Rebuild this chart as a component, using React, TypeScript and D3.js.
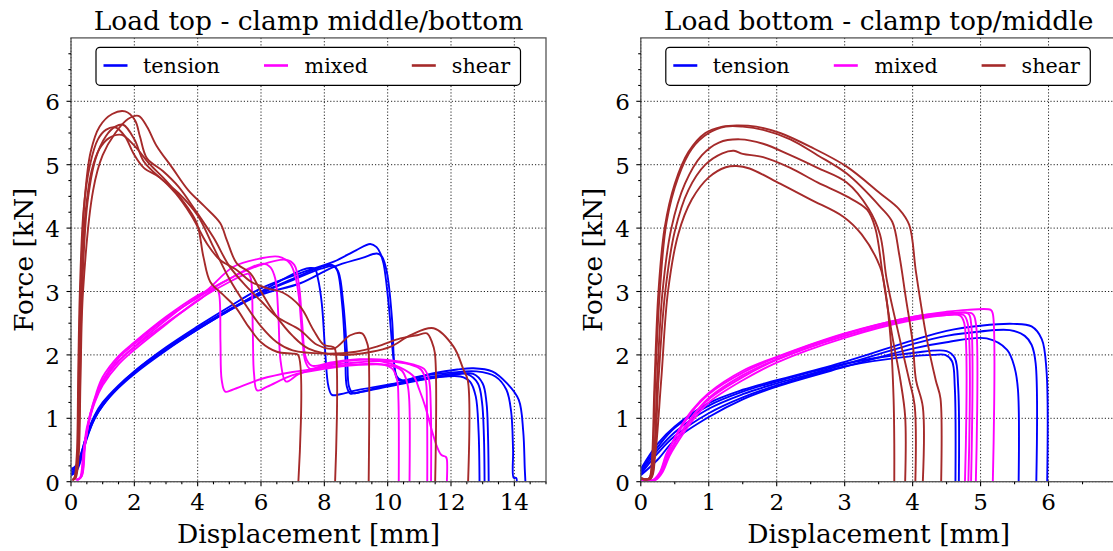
import React from 'react';
import * as d3 from 'd3';

type Pt = [number, number];

const seriesNames = ['tension', 'mixed', 'shear'];
const seriesColors = ['#0000ff', '#ff00ff', '#a52a2a'];

const leftTitle = 'Load top - clamp middle/bottom';
const rightTitle = 'Load bottom - clamp top/middle';
const xLabel = 'Displacement [mm]';
const yLabel = 'Force [kN]';

const leftXTicks = [0, 2, 4, 6, 8, 10, 12, 14];
const rightXTicks = [0, 1, 2, 3, 4, 5, 6];
const yTicks = [0, 1, 2, 3, 4, 5, 6];

// ---------- LEFT: Load top - clamp middle/bottom ----------
const leftTension: Pt[][] = [
  [[0,0.12],[0.15,0.18],[0.3,0.35],[0.5,0.7],[0.75,1.0],[1,1.2],[1.5,1.48],[2,1.7],[3,2.07],[4,2.4],[5,2.7],[6,3.0],[6.8,3.22],[7.3,3.34],[7.55,3.37],[7.7,3.36],[7.8,3.2],[7.92,2.81],[8.03,2.03],[8.13,1.5],[8.24,1.37],[8.5,1.38],[9,1.44],[10,1.53],[11,1.61],[11.8,1.66],[12.3,1.66],[12.6,1.58],[12.78,1.35],[12.87,0.8],[12.9,0.05],[12.9,0]],
  [[0,0.15],[0.15,0.2],[0.3,0.38],[0.5,0.72],[0.75,1.02],[1,1.22],[1.5,1.5],[2,1.72],[3,2.1],[4,2.42],[5,2.72],[6,2.98],[7,3.2],[7.8,3.37],[8.24,3.42],[8.4,3.34],[8.56,2.81],[8.66,2.03],[8.71,1.5],[8.82,1.39],[9,1.4],[10,1.52],[11,1.62],[12,1.7],[12.5,1.7],[12.85,1.55],[12.98,1.25],[13.04,0.7],[13.06,0]],
  [[0,0.18],[0.15,0.22],[0.3,0.4],[0.5,0.75],[0.75,1.05],[1,1.25],[1.5,1.52],[2,1.74],[3,2.1],[4,2.42],[5,2.71],[6,2.97],[7,3.18],[7.9,3.36],[8.3,3.4],[8.45,3.3],[8.6,2.8],[8.72,2.0],[8.78,1.5],[8.9,1.4],[9.2,1.42],[10,1.5],[11,1.6],[12,1.68],[12.7,1.7],[13.0,1.55],[13.12,1.25],[13.17,0.7],[13.19,0]],
  [[0,0.1],[0.15,0.15],[0.3,0.32],[0.5,0.68],[0.75,1.0],[1,1.2],[1.5,1.5],[2,1.74],[3,2.12],[4,2.45],[5,2.76],[6,3.05],[7.24,3.29],[8.3,3.47],[9.0,3.65],[9.45,3.75],[9.65,3.7],[9.77,3.6],[9.87,3.44],[10.03,2.81],[10.19,1.92],[10.29,1.66],[10.45,1.6],[11,1.66],[12,1.72],[12.8,1.74],[13.4,1.66],[13.75,1.45],[13.9,1.1],[13.96,0.5],[13.98,0.06],[14.06,0.06],[14.08,0]],
  [[0,0.2],[0.15,0.25],[0.3,0.42],[0.5,0.74],[0.75,1.03],[1,1.23],[1.5,1.5],[2,1.72],[3,2.08],[4,2.4],[5,2.7],[6,2.95],[7.24,3.13],[8.3,3.39],[9.2,3.53],[9.66,3.6],[9.82,3.55],[9.98,3.29],[10.14,2.55],[10.24,1.71],[10.34,1.6],[10.6,1.6],[11.45,1.71],[12.2,1.77],[12.71,1.79],[13.3,1.74],[13.77,1.55],[14.14,1.29],[14.28,0.8],[14.33,0.2],[14.35,0]],
];

const leftMixed: Pt[][] = [
  [[0.15,0.03],[0.28,0.06],[0.38,0.4],[0.5,0.85],[0.75,1.3],[1,1.58],[1.5,1.9],[2,2.12],[3,2.5],[4,2.85],[4.4,3.0],[4.6,3.05],[4.68,2.95],[4.72,2.2],[4.76,1.6],[4.87,1.42],[5.1,1.45],[6,1.62],[7,1.73],[8,1.8],[9,1.85],[9.8,1.85],[10.15,1.78],[10.3,1.6],[10.34,1.3],[10.35,0]],
  [[0.18,0.03],[0.3,0.06],[0.4,0.45],[0.5,0.8],[0.75,1.25],[1,1.52],[1.5,1.85],[2,2.08],[3,2.48],[4,2.86],[5,3.15],[5.5,3.27],[5.6,3.28],[5.68,3.2],[5.74,2.4],[5.78,1.7],[5.88,1.44],[6.2,1.5],[7,1.68],[8,1.78],[9,1.84],[10,1.84],[10.45,1.75],[10.62,1.55],[10.68,1.3],[10.69,0]],
  [[0.2,0.03],[0.32,0.08],[0.42,0.5],[0.55,0.9],[0.75,1.28],[1,1.56],[1.5,1.9],[2,2.13],[3,2.55],[4,2.92],[5,3.2],[5.6,3.36],[6.08,3.44],[6.3,3.38],[6.45,3.2],[6.55,2.6],[6.62,1.9],[6.79,1.58],[7.2,1.7],[8,1.82],[9,1.88],[10,1.9],[10.7,1.85],[11.05,1.77],[11.2,1.6],[11.24,1.2],[11.25,0]],
  [[0.22,0.03],[0.35,0.1],[0.45,0.6],[0.6,1.05],[0.8,1.4],[1,1.65],[1.5,1.98],[2,2.2],[3,2.6],[4,2.94],[4.29,3.02],[5.13,3.39],[5.97,3.52],[6.55,3.55],[6.92,3.44],[7.1,3.2],[7.2,2.9],[7.3,2.3],[7.4,1.9],[7.55,1.78],[8,1.84],[9,1.92],[10,1.92],[10.8,1.85],[11.15,1.78],[11.3,1.62],[11.36,1.2],[11.37,0]],
  [[0.2,0.03],[0.33,0.08],[0.43,0.55],[0.58,1.0],[0.8,1.35],[1,1.6],[1.5,1.95],[2,2.17],[3,2.58],[4,2.9],[5,3.2],[6,3.42],[6.78,3.5],[7.05,3.42],[7.2,3.1],[7.3,2.5],[7.42,1.95],[7.6,1.83],[8.2,1.88],[9,1.93],[9.8,1.9],[10.4,1.8],[10.82,1.66],[11.0,1.45],[11.19,1.18],[11.4,0.8],[11.56,0.55],[11.7,0.42],[11.84,0.39],[11.87,0.35],[11.87,0]],
];

const leftShear: Pt[][] = [
  [[0.05,0.03],[0.1,0.05],[0.2,0.3],[0.26,1.5],[0.32,3.0],[0.45,4.2],[0.65,4.9],[0.9,5.25],[1.2,5.42],[1.6,5.47],[2.0,5.3],[2.5,5.0],[3.0,4.75],[3.5,4.45],[3.97,4.08],[4.18,3.55],[4.4,3.15],[4.8,2.95],[5.2,2.75],[5.6,2.45],[6.0,2.2],[6.5,2.05],[7.0,2.02],[7.17,2.0],[7.18,0]],
  [[0.05,0.03],[0.1,0.05],[0.18,0.4],[0.23,1.8],[0.28,3.0],[0.4,4.3],[0.6,5.0],[0.85,5.4],[1.1,5.55],[1.39,5.59],[1.7,5.45],[1.97,5.18],[2.3,4.95],[2.8,4.8],[3.3,4.55],[3.8,4.2],[4.3,3.75],[4.7,3.5],[5.2,3.35],[5.7,3.15],[6.2,3.05],[6.7,2.98],[7.24,2.76],[7.66,2.39],[7.98,2.16],[8.24,2.13],[8.33,2.1],[8.34,0]],
  [[0.05,0.03],[0.12,0.05],[0.2,0.3],[0.25,1.6],[0.3,3.0],[0.44,4.5],[0.62,5.2],[0.9,5.6],[1.3,5.8],[1.71,5.84],[2.02,5.7],[2.18,5.44],[2.4,5.1],[2.9,4.9],[3.4,4.65],[3.9,4.3],[4.5,3.85],[5.0,3.4],[5.5,3.1],[6.0,2.85],[6.5,2.6],[7.24,2.39],[7.77,2.16],[8.3,2.1],[8.82,2.31],[9.19,2.34],[9.35,2.19],[9.39,2.1],[9.4,0]],
  [[0.05,0.03],[0.12,0.05],[0.22,0.4],[0.28,1.6],[0.35,3.0],[0.52,4.4],[0.78,5.1],[1.1,5.45],[1.4,5.6],[1.65,5.63],[2.0,5.4],[2.3,5.05],[2.8,4.8],[3.4,4.55],[4.0,4.2],[4.5,3.7],[5.0,3.2],[5.5,2.8],[6.0,2.45],[6.5,2.2],[7.0,2.07],[8,2.02],[9,2.05],[9.66,2.13],[10.4,2.26],[10.93,2.31],[11.24,2.34],[11.4,2.2],[11.49,2.03],[11.5,0]],
  [[0.05,0.03],[0.14,0.05],[0.24,0.4],[0.3,1.6],[0.38,3.0],[0.7,4.6],[1.0,5.15],[1.4,5.5],[1.8,5.72],[2.13,5.77],[2.4,5.6],[2.7,5.3],[3.2,4.95],[3.7,4.6],[4.2,4.35],[4.71,4.08],[4.92,3.81],[5.24,3.44],[5.66,3.29],[6.0,3.0],[6.5,2.6],[7.0,2.3],[7.5,2.1],[8.5,2.0],[9.5,2.05],[10.1,2.13],[10.72,2.31],[11.45,2.42],[12.08,2.13],[12.4,1.76],[12.53,1.6],[12.54,0]],
];

// ---------- RIGHT: Load bottom - clamp top/middle ----------
const rightTension: Pt[][] = [
  [[0,0.12],[0.25,0.45],[0.5,0.72],[1,1.08],[1.5,1.33],[2,1.52],[3,1.82],[4,1.98],[4.3,2.0],[4.48,2.0],[4.58,1.9],[4.62,1.5],[4.63,0]],
  [[0,0.18],[0.25,0.55],[0.5,0.85],[1,1.2],[1.5,1.42],[2,1.58],[3,1.86],[4,2.03],[4.5,2.06],[4.62,1.95],[4.67,1.5],[4.68,0]],
  [[0,0.1],[0.25,0.35],[0.5,0.66],[1,1.02],[1.5,1.3],[2,1.5],[3,1.81],[4,2.1],[4.5,2.2],[5.09,2.26],[5.39,2.08],[5.5,1.8],[5.55,1.45],[5.56,0]],
  [[0,0.15],[0.25,0.5],[0.5,0.78],[1,1.15],[1.5,1.38],[2,1.55],[3,1.85],[4,2.17],[4.5,2.3],[5,2.37],[5.43,2.39],[5.65,2.3],[5.75,2.16],[5.81,1.87],[5.82,0]],
  [[0,0.2],[0.25,0.6],[0.5,0.87],[1,1.24],[1.5,1.45],[2,1.6],[3,1.89],[4,2.23],[4.5,2.38],[5,2.46],[5.48,2.49],[5.75,2.45],[5.9,2.25],[5.97,1.75],[5.98,0]],
];

const rightMixed: Pt[][] = [
  [[0,0.02],[0.2,0.03],[0.3,0.15],[0.4,0.4],[0.5,0.6],[0.75,1.0],[1,1.3],[1.5,1.65],[2,1.92],[3,2.3],[4,2.57],[4.5,2.63],[4.7,2.62],[4.76,2.5],[4.77,0]],
  [[0,0.02],[0.22,0.03],[0.32,0.15],[0.42,0.4],[0.5,0.55],[0.75,0.95],[1,1.25],[1.5,1.6],[2,1.88],[3,2.27],[4,2.55],[4.5,2.63],[4.75,2.63],[4.81,2.5],[4.82,0]],
  [[0,0.02],[0.18,0.03],[0.28,0.15],[0.38,0.45],[0.5,0.68],[0.75,1.1],[1,1.38],[1.5,1.72],[2,1.96],[3,2.33],[4,2.6],[4.6,2.66],[4.82,2.65],[4.86,2.5],[4.86,0]],
  [[0,0.02],[0.2,0.03],[0.3,0.15],[0.4,0.42],[0.5,0.62],[0.75,1.02],[1,1.32],[1.5,1.68],[2,1.93],[3,2.3],[4,2.58],[4.6,2.66],[4.88,2.65],[4.93,2.5],[4.93,0]],
  [[0,0.02],[0.2,0.03],[0.3,0.15],[0.4,0.45],[0.5,0.7],[0.75,1.12],[1,1.4],[1.5,1.75],[2,1.97],[3,2.34],[4,2.6],[4.5,2.68],[4.8,2.71],[5.15,2.71],[5.18,2.65],[5.18,0]],
];

const rightShear: Pt[][] = [
  [[0,0.05],[0.12,0.05],[0.16,0.3],[0.2,1.5],[0.26,3.0],[0.35,4.0],[0.5,4.7],[0.7,5.2],[0.95,5.5],[1.2,5.6],[1.41,5.62],[1.7,5.6],[2.05,5.5],[2.5,5.28],[3.03,4.97],[3.52,4.55],[3.8,4.3],[3.95,4.05],[4.05,3.3],[4.2,2.3],[4.34,1.6],[4.41,1.31],[4.42,0]],
  [[0,0.05],[0.13,0.05],[0.17,0.3],[0.21,1.5],[0.28,3.0],[0.38,4.1],[0.55,4.8],[0.75,5.25],[1.0,5.5],[1.25,5.6],[1.5,5.6],[1.8,5.55],[2.2,5.4],[2.6,5.15],[3.03,4.86],[3.52,4.34],[3.7,4.1],[3.8,3.6],[3.9,2.9],[4.0,2.2],[4.05,1.6],[4.15,1.18],[4.15,0]],
  [[0,0.05],[0.12,0.05],[0.19,0.4],[0.24,1.6],[0.32,3.0],[0.45,4.0],[0.65,4.7],[0.9,5.15],[1.15,5.35],[1.46,5.4],[1.8,5.33],[2.2,5.15],[2.6,4.95],[3.03,4.72],[3.35,4.31],[3.52,3.9],[3.62,3.18],[3.8,2.3],[3.95,1.6],[4.03,1.2],[4.04,0]],
  [[0,0.05],[0.14,0.05],[0.2,0.4],[0.26,1.6],[0.36,3.0],[0.5,3.95],[0.7,4.6],[0.95,5.0],[1.2,5.18],[1.37,5.22],[1.5,5.17],[1.8,5.12],[2.2,4.95],[2.6,4.72],[3.03,4.5],[3.33,4.29],[3.45,4.0],[3.57,3.18],[3.7,2.3],[3.82,1.6],[3.89,1.03],[3.89,0]],
  [[0,0.05],[0.15,0.05],[0.21,0.4],[0.3,1.6],[0.4,3.0],[0.55,3.9],[0.75,4.45],[1.0,4.8],[1.25,4.96],[1.41,4.98],[1.6,4.94],[2.05,4.7],[2.5,4.45],[2.98,4.18],[3.25,3.9],[3.52,3.39],[3.6,3.0],[3.68,2.2],[3.72,1.3],[3.73,0.6],[3.73,0]],
];

const FONT = "'DejaVu Serif', serif";
const Y_TOP = 37.9;
const Y_BOT = 481.7;

type PanelProps = {
  id: string;
  left: number;
  right: number;
  xMax: number;
  xTicks: number[];
  xMinorStep: number;
  title: string;
  tension: Pt[][];
  mixed: Pt[][];
  shear: Pt[][];
};

function Panel(p: PanelProps) {
  const x = d3.scaleLinear().domain([0, p.xMax]).range([p.left, p.right]);
  const y = d3.scaleLinear().domain([0, 7]).range([Y_BOT, Y_TOP]);
  const line = d3
    .line<Pt>()
    .x((d) => x(d[0]))
    .y((d) => y(d[1]))
    .curve(d3.curveCatmullRom.alpha(0.5));
  const isMajor = (v: number, ticks: number[]) => ticks.some((t) => Math.abs(t - v) < 1e-6);
  const xMinor = d3.range(0, p.xMax + 1e-6, p.xMinorStep).filter((v) => !isMajor(v, p.xTicks));
  const yMinor = d3.range(0, 7 + 1e-6, 0.25).filter((v) => !isMajor(v, yTicks) && v < 6.99);
  const groups = [p.tension, p.mixed, p.shear];
  const cx = (p.left + p.right) / 2;
  const cy = (Y_TOP + Y_BOT) / 2;
  const lg = p.left + 25;
  const lineOffs = [7.5, 168, 315.8];
  const textOffs = [47, 208.6, 355.8];
  return (
    <g>
      <defs>
        <clipPath id={p.id}>
          <rect x={p.left} y={Y_TOP} width={p.right - p.left} height={Y_BOT - Y_TOP} />
        </clipPath>
      </defs>
      {/* grid */}
      <g stroke="#222" strokeWidth={1} strokeDasharray="1.2,2">
        {p.xTicks.map((t) => (
          <line key={'gx' + t} x1={x(t)} x2={x(t)} y1={Y_TOP} y2={Y_BOT} />
        ))}
        {yTicks.map((t) => (
          <line key={'gy' + t} x1={p.left} x2={p.right} y1={y(t)} y2={y(t)} />
        ))}
      </g>
      {/* curves */}
      <g clipPath={`url(#${p.id})`} fill="none" strokeWidth={1.9} strokeLinejoin="round">
        {groups.map((g, gi) =>
          g.map((c, ci) => <path key={gi + '-' + ci} d={line(c) || ''} stroke={seriesColors[gi]} />)
        )}
      </g>
      {/* spines */}
      <rect x={p.left} y={Y_TOP} width={p.right - p.left} height={Y_BOT - Y_TOP} fill="none" stroke="#555" strokeWidth={1.3} />
      {/* ticks */}
      <g stroke="#000" strokeWidth={1.1}>
        {p.xTicks.map((t) => (
          <line key={'tx' + t} x1={x(t)} x2={x(t)} y1={Y_BOT} y2={Y_BOT + 4.5} />
        ))}
        {xMinor.map((t) => (
          <line key={'mx' + t} x1={x(t)} x2={x(t)} y1={Y_BOT} y2={Y_BOT + 2.6} />
        ))}
        {yTicks.map((t) => (
          <line key={'ty' + t} x1={p.left - 4.5} x2={p.left} y1={y(t)} y2={y(t)} />
        ))}
        {yMinor.map((t) => (
          <line key={'my' + t} x1={p.left - 2.6} x2={p.left} y1={y(t)} y2={y(t)} />
        ))}
      </g>
      <g fontFamily={FONT} fontSize={23} fill="#000">
        {p.xTicks.map((t) => (
          <text key={'lx' + t} x={x(t)} y={510} textAnchor="middle">
            {t}
          </text>
        ))}
        {yTicks.map((t) => (
          <text key={'ly' + t} x={p.left - 11} y={y(t) + 9} textAnchor="end">
            {t}
          </text>
        ))}
      </g>
      <text x={cx} y={30} textAnchor="middle" fontFamily={FONT} fontSize={26.5}>
        {p.title}
      </text>
      <text x={cx} y={543} textAnchor="middle" fontFamily={FONT} fontSize={26.5}>
        {xLabel}
      </text>
      <text
        transform={`translate(${p.left - 38.5},${cy}) rotate(-90)`}
        textAnchor="middle"
        fontFamily={FONT}
        fontSize={26.5}
      >
        {yLabel}
      </text>
      {/* legend */}
      <rect x={lg} y={47.3} width={424.5} height={38} rx={4} fill="#fff" stroke="#000" strokeWidth={1.2} />
      {seriesNames.map((n, i) => (
        <g key={n}>
          <line x1={lg + lineOffs[i]} x2={lg + lineOffs[i] + 24} y1={65.5} y2={65.5} stroke={seriesColors[i]} strokeWidth={2.6} />
          <text x={lg + textOffs[i]} y={73} fontFamily={FONT} fontSize={20.7}>
            {n}
          </text>
        </g>
      ))}
    </g>
  );
}

export default function App() {
  return (
    <svg
      width={1113}
      height={551}
      style={{ position: 'absolute', left: 0, top: 0, background: '#fff' }}
      xmlns="http://www.w3.org/2000/svg"
    >
      <rect x={0} y={0} width={1113} height={551} fill="#fff" />
      <Panel
        id="clipL"
        left={71}
        right={546}
        xMax={15}
        xTicks={leftXTicks}
        xMinorStep={0.5}
        title={leftTitle}
        tension={leftTension}
        mixed={leftMixed}
        shear={leftShear}
      />
      <Panel
        id="clipR"
        left={640.8}
        right={1116.5}
        xMax={7}
        xTicks={rightXTicks}
        xMinorStep={0.5}
        title={rightTitle}
        tension={rightTension}
        mixed={rightMixed}
        shear={rightShear}
      />
    </svg>
  );
}
